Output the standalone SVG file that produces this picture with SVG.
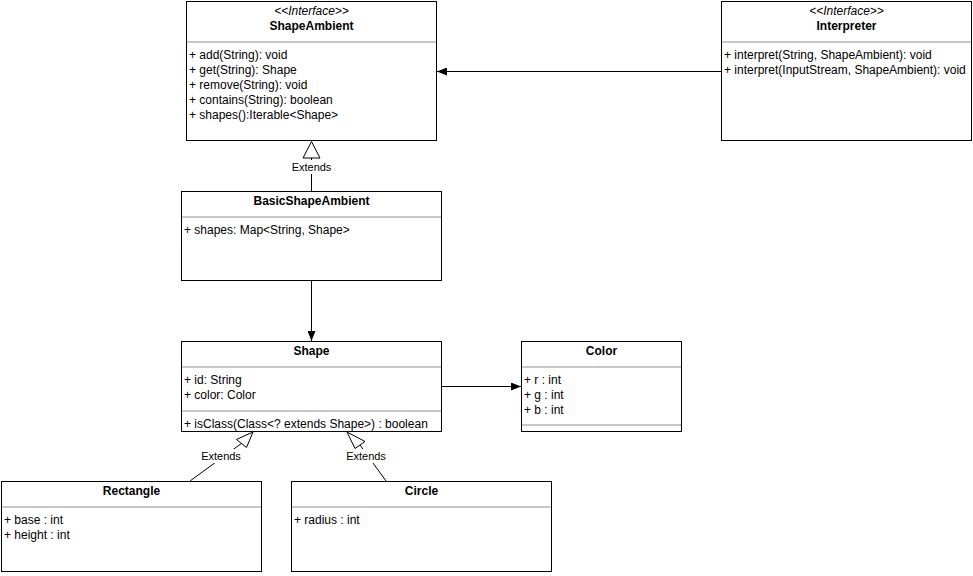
<svg xmlns="http://www.w3.org/2000/svg" width="973" height="576" viewBox="0 0 973 576">
<defs>
<style>
.box{fill:#fff;stroke:#000;stroke-width:1}
.sep{stroke:#c8c8c8;stroke-width:2}
text{font-family:"Liberation Sans",Arial,sans-serif;font-size:12px;fill:#000}
.t{font-weight:bold;text-anchor:middle}
.st{font-style:italic;text-anchor:middle}
.lbl{text-anchor:middle;font-size:11px}
.ln{stroke:#000;stroke-width:1;fill:none}
.tri{fill:#fff;stroke:#000;stroke-width:1}
</style>
<marker id="arr" viewBox="0 0 10 8" refX="10" refY="4" markerWidth="10" markerHeight="8" markerUnits="userSpaceOnUse" orient="auto">
<path d="M0,0 L10,4 L0,8 Z" fill="#000"/>
</marker>
</defs>
<rect width="973" height="576" fill="#fff"/>

<g id="connectors">
<line class="ln" x1="721" y1="71.5" x2="437" y2="71.5" marker-end="url(#arr)"/>
<line class="ln" x1="311.5" y1="281" x2="311.5" y2="341" marker-end="url(#arr)"/>
<line class="ln" x1="441" y1="386.5" x2="521" y2="386.5" marker-end="url(#arr)"/>
<!-- BasicShapeAmbient extends ShapeAmbient -->
<line class="ln" x1="311.5" y1="191" x2="311.5" y2="158"/>
<polygon class="tri" points="311.5,141.5 303,158 320,158"/>
<rect x="290" y="160" width="43" height="14" fill="#fff"/>
<text class="lbl" x="311.5" y="171">Extends</text>
<!-- Rectangle extends Shape -->
<line class="ln" x1="190" y1="481" x2="242" y2="443"/>
<polygon class="tri" points="253,432 236.5,439.5 246.5,447.5"/>
<rect x="200" y="449" width="42" height="14" fill="#fff"/>
<text class="lbl" x="221" y="460">Extends</text>
<!-- Circle extends Shape -->
<line class="ln" x1="386" y1="481" x2="360" y2="445"/>
<polygon class="tri" points="347,432 365,441.5 355,448.5"/>
<rect x="345" y="449" width="42" height="14" fill="#fff"/>
<text class="lbl" x="366" y="460">Extends</text>
</g>

<g id="ShapeAmbient">
<rect class="box" x="186.5" y="1.5" width="250" height="139"/>
<text class="st" x="311.5" y="15">&lt;&lt;Interface&gt;&gt;</text>
<text class="t" x="311.5" y="30">ShapeAmbient</text>
<line class="sep" x1="187" y1="42" x2="436" y2="42"/>
<text x="189" y="59">+ add(String): void</text>
<text x="189" y="74">+ get(String): Shape</text>
<text x="189" y="89">+ remove(String): void</text>
<text x="189" y="104">+ contains(String): boolean</text>
<text x="189" y="119">+ shapes():Iterable&lt;Shape&gt;</text>
</g>

<g id="Interpreter">
<rect class="box" x="721.5" y="1.5" width="250" height="139"/>
<text class="st" x="846.5" y="15">&lt;&lt;Interface&gt;&gt;</text>
<text class="t" x="846.5" y="30">Interpreter</text>
<line class="sep" x1="722" y1="42" x2="971" y2="42"/>
<text x="724" y="59">+ interpret(String, ShapeAmbient): void</text>
<text x="724" y="74">+ interpret(InputStream, ShapeAmbient): void</text>
</g>

<g id="BasicShapeAmbient">
<rect class="box" x="181.5" y="191.5" width="260" height="89"/>
<text class="t" x="311.5" y="205">BasicShapeAmbient</text>
<line class="sep" x1="182" y1="217" x2="441" y2="217"/>
<text x="184" y="234">+ shapes: Map&lt;String, Shape&gt;</text>
</g>

<g id="Shape">
<rect class="box" x="181.5" y="341.5" width="260" height="90"/>
<text class="t" x="311.5" y="355">Shape</text>
<line class="sep" x1="182" y1="367" x2="441" y2="367"/>
<text x="184" y="384">+ id: String</text>
<text x="184" y="399">+ color: Color</text>
<line class="sep" x1="182" y1="411" x2="441" y2="411"/>
<text x="184" y="428">+ isClass(Class&lt;? extends Shape&gt;) : boolean</text>
</g>

<g id="Color">
<rect class="box" x="521.5" y="341.5" width="160" height="90"/>
<text class="t" x="601.5" y="355">Color</text>
<line class="sep" x1="522" y1="367" x2="681" y2="367"/>
<text x="524" y="384">+ r : int</text>
<text x="524" y="399">+ g : int</text>
<text x="524" y="414">+ b : int</text>
<line class="sep" x1="522" y1="425" x2="681" y2="425"/>
</g>

<g id="Rectangle">
<rect class="box" x="1.5" y="481.5" width="260" height="90"/>
<text class="t" x="131.5" y="495">Rectangle</text>
<line class="sep" x1="2" y1="507" x2="261" y2="507"/>
<text x="4" y="524">+ base : int</text>
<text x="4" y="539">+ height : int</text>
</g>

<g id="Circle">
<rect class="box" x="291.5" y="481.5" width="260" height="90"/>
<text class="t" x="421.5" y="495">Circle</text>
<line class="sep" x1="292" y1="507" x2="551" y2="507"/>
<text x="294" y="524">+ radius : int</text>
</g>
</svg>
